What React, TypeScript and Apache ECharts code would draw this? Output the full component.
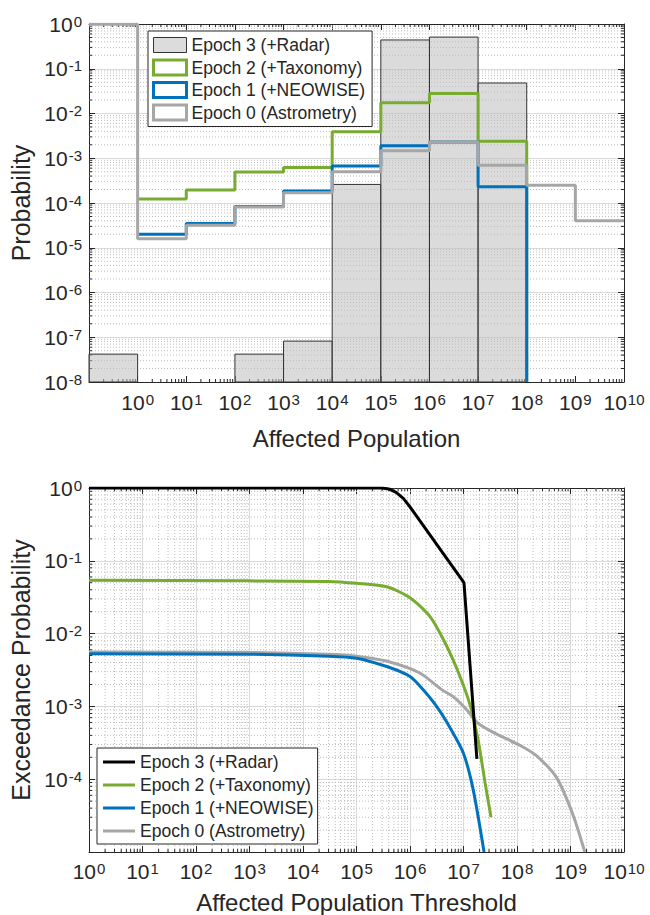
import React, { useEffect, useRef } from "react";
import * as echarts from "echarts";

// ---------- Top chart: histogram of affected population ----------
const binEdges = [0.1, 1, 10, 1e2, 1e3, 1e4, 1e5, 1e6, 1e7, 1e8, 1e9, 1e10];
const epoch3Hist = [4.2e-8, 0, 0, 4.2e-8, 8.2e-8, 2.6e-4, 0.44, 0.51, 0.048, 0, 0];
const epoch2Hist = [null, 1.23e-4, 1.95e-4, 4.9e-4, 6.2e-4, 3.9e-3, 0.0173, 0.028, 2.4e-3, 0, 0];
const epoch1Hist = [null, 2.0e-5, 3.5e-5, 8.3e-5, 1.86e-4, 6.7e-4, 1.9e-3, 2.3e-3, 2.3e-4, 0, 0];
const epoch0Hist = [0.99, 1.58e-5, 3.2e-5, 8.1e-5, 1.7e-4, 5.0e-4, 1.47e-3, 2.3e-3, 7.0e-4, 2.5e-4, 4.0e-5];

// ---------- Bottom chart: exceedance curves [threshold, probability] ----------
const epoch3Exc = [[1, 1], [3e5, 1], [4e5, 0.97], [5.5e5, 0.87], [7.5e5, 0.72], [1e6, 0.55], [1.02e7, 0.05], [1.78e7, 1.9e-4]];
const epoch2Exc = [[1, 0.054], [1e3, 0.053], [3e4, 0.052], [1e5, 0.049], [3.67e5, 0.044], [1e6, 0.0311], [2.37e6, 0.0171], [4.92e6, 6.6e-3], [8.6e6, 2.58e-3], [1.32e7, 1.06e-3], [1.87e7, 3.5e-4], [2.52e7, 9.1e-5], [3.27e7, 3.0e-5]];
const epoch1Exc = [[1, 5.3e-3], [1e3, 5.2e-3], [3e4, 4.9e-3], [1e5, 4.6e-3], [3.67e5, 3.53e-3], [1e6, 2.58e-3], [1.75e6, 1.71e-3], [3e6, 1.05e-3], [4.92e6, 6.0e-4], [9.8e6, 2.34e-4], [1.51e7, 7.3e-5], [2.42e7, 1e-5]];
const epoch0Exc = [[1, 5.6e-3], [1e3, 5.5e-3], [3e4, 5.2e-3], [1e5, 4.9e-3], [3.6e5, 4.2e-3], [1.5e6, 2.9e-3], [3.9e6, 1.7e-3], [6.5e6, 1.35e-3], [1.15e7, 9e-4], [1.8e7, 6e-4], [3.6e7, 4.4e-4], [1.15e8, 2.9e-4], [2.3e8, 2.1e-4], [5.5e8, 1.05e-4], [1.12e9, 3.2e-5], [1.85e9, 1e-5]];

const seriesNames = ["Epoch 3 (+Radar)", "Epoch 2 (+Taxonomy)", "Epoch 1 (+NEOWISE)", "Epoch 0 (Astrometry)"];

const TOP_X = [0.1, 1e10];
const TOP_Y = [1e-8, 1];
const BOT_X = [1, 1e10];
const BOT_Y = [1e-5, 1];

const C_GREEN = "#77AC30";
const C_BLUE = "#0072BD";
const C_GRAY = "#a6a6a6";
const C_BLACK = "#000000";
const C_AXIS = "#262626";
const FONT = '"Liberation Sans", Arial, Helvetica, sans-serif';

function stairs(vals: (number | null)[], floor: number) {
  const pts: number[][] = [];
  let last = -1;
  for (let i = 0; i < vals.length; i++) {
    const v = vals[i];
    if (v == null) continue;
    if (v > 0) {
      pts.push([binEdges[i], v]);
      last = i;
    } else if (last === i - 1 && last >= 0) {
      pts.push([binEdges[i], floor]);
      last = -2;
      break;
    }
  }
  if (last === vals.length - 1) pts.push([binEdges[vals.length], vals[last] as number]);
  return pts;
}

function minorValues(lo: number, hi: number) {
  const out: number[] = [];
  const a = Math.floor(Math.log10(lo));
  const b = Math.ceil(Math.log10(hi));
  for (let k = a; k < b; k++) {
    for (let m = 2; m <= 9; m++) {
      const v = m * Math.pow(10, k);
      if (v > lo * 1.0001 && v < hi * 0.9999) out.push(v);
    }
  }
  return out;
}

const supRich = {
  b: { fontSize: 21, lineHeight: 21, verticalAlign: "bottom", color: C_AXIS, fontFamily: FONT },
  s: { fontSize: 15, lineHeight: 15, verticalAlign: "top", padding: [0, 0, 10, 1], color: C_AXIS, fontFamily: FONT },
};
const supFormatter = (v: number) => "{b|10}{s|" + Math.round(Math.log10(v)) + "}";

function mainAxis(grid: number, range: number[], extra: any) {
  return {
    type: "log",
    logBase: 10,
    gridIndex: grid,
    min: range[0],
    max: range[1],
    interval: 1,
    axisLine: { show: true, onZero: false, lineStyle: { color: C_AXIS, width: 1 } },
    axisTick: { show: true, inside: true, length: 6, lineStyle: { color: C_AXIS } },
    minorTick: { show: false },
    ...extra,
  };
}

function mirrorAxis(grid: number, range: number[], position: string) {
  return {
    type: "log",
    logBase: 10,
    gridIndex: grid,
    min: range[0],
    max: range[1],
    interval: 1,
    position,
    axisLine: { show: true, onZero: false, lineStyle: { color: C_AXIS, width: 1 } },
    axisTick: { show: true, inside: true, length: 6, lineStyle: { color: C_AXIS } },
    axisLabel: { show: false },
    splitLine: { show: false },
  };
}

function hMinorSeries(xi: number, yi: number, xr: number[], yr: number[], grid: boolean) {
  return {
    type: "custom",
    xAxisIndex: xi,
    yAxisIndex: yi,
    silent: true,
    z: 1,
    encode: { x: 0, y: 1 },
    data: minorValues(yr[0], yr[1]).map((v) => [xr[0], v]),
    renderItem: (params: any, api: any) => {
      const v = api.value(1);
      const a = api.coord([xr[0], v]);
      const b = api.coord([xr[1], v]);
      const children: any[] = [];
      if (grid)
        children.push({
          type: "line",
          shape: { x1: a[0], y1: a[1], x2: b[0], y2: b[1] },
          style: { stroke: "#bdbdbd", lineWidth: 1, lineDash: [1, 2] },
        });
      children.push({ type: "line", shape: { x1: a[0], y1: a[1], x2: a[0] + 3, y2: a[1] }, style: { stroke: C_AXIS, lineWidth: 1 } });
      children.push({ type: "line", shape: { x1: b[0] - 3, y1: b[1], x2: b[0], y2: b[1] }, style: { stroke: C_AXIS, lineWidth: 1 } });
      return { type: "group", children };
    },
  };
}

function vMinorSeries(xi: number, yi: number, xr: number[], yr: number[], grid: boolean) {
  return {
    type: "custom",
    xAxisIndex: xi,
    yAxisIndex: yi,
    silent: true,
    z: 1,
    encode: { x: 0, y: 1 },
    data: minorValues(xr[0], xr[1]).map((v) => [v, yr[0]]),
    renderItem: (params: any, api: any) => {
      const v = api.value(0);
      const a = api.coord([v, yr[0]]);
      const b = api.coord([v, yr[1]]);
      const children: any[] = [];
      if (grid)
        children.push({
          type: "line",
          shape: { x1: a[0], y1: a[1], x2: b[0], y2: b[1] },
          style: { stroke: "#bdbdbd", lineWidth: 1, lineDash: [1, 2] },
        });
      children.push({ type: "line", shape: { x1: a[0], y1: a[1], x2: a[0], y2: a[1] - 3 }, style: { stroke: C_AXIS, lineWidth: 1 } });
      children.push({ type: "line", shape: { x1: b[0], y1: b[1], x2: b[0], y2: b[1] + 3 }, style: { stroke: C_AXIS, lineWidth: 1 } });
      return { type: "group", children };
    },
  };
}

function excSeries(name: string, color: string, data: number[][], smooth: number | boolean) {
  return {
    name,
    type: "line",
    xAxisIndex: 2,
    yAxisIndex: 2,
    symbol: "none",
    smooth,
    z: 3,
    lineStyle: { color, width: 3 },
    itemStyle: { color },
    data,
  };
}

function stairSeries(name: string, color: string, data: number[][]) {
  return {
    name,
    type: "line",
    xAxisIndex: 0,
    yAxisIndex: 0,
    step: "end",
    symbol: "none",
    z: 3,
    lineStyle: { color, width: 3 },
    itemStyle: { color },
    data,
  };
}

export default function App() {
  const ref = useRef<HTMLDivElement>(null);
  useEffect(() => {
    if (!ref.current) return;
    const chart = echarts.init(ref.current, undefined, { renderer: "svg" });

    const histData = epoch3Hist
      .map((v, i) => [binEdges[i], binEdges[i + 1], v])
      .filter((d) => d[2] > 0);

    const majorSplit = { show: true, lineStyle: { color: "#dadada", width: 1 } };

    const option: any = {
      animation: false,
      backgroundColor: "#ffffff",
      textStyle: { fontFamily: FONT },
      grid: [
        { left: 89, top: 24, width: 535, height: 358 },
        { left: 89, top: 488, width: 535, height: 365 },
      ],
      xAxis: [
        mainAxis(0, TOP_X, {
          splitLine: { show: false },
          axisLabel: { formatter: supFormatter, rich: supRich, margin: 10, showMinLabel: false },
          name: "Affected Population",
          nameLocation: "middle",
          nameGap: 44,
          nameTextStyle: { fontSize: 24, color: C_AXIS, fontFamily: FONT },
        }),
        mirrorAxis(0, TOP_X, "top"),
        mainAxis(1, BOT_X, {
          splitLine: majorSplit,
          axisLabel: { formatter: supFormatter, rich: supRich, margin: 9 },
          name: "Affected Population Threshold",
          nameLocation: "middle",
          nameGap: 38,
          nameTextStyle: { fontSize: 24, color: C_AXIS, fontFamily: FONT },
        }),
        mirrorAxis(1, BOT_X, "top"),
      ],
      yAxis: [
        mainAxis(0, TOP_Y, {
          splitLine: majorSplit,
          axisLabel: { formatter: supFormatter, rich: supRich, margin: 7 },
          name: "Probability",
          nameLocation: "middle",
          nameGap: 52,
          nameTextStyle: { fontSize: 25, color: C_AXIS, fontFamily: FONT },
        }),
        mirrorAxis(0, TOP_Y, "right"),
        mainAxis(1, BOT_Y, {
          splitLine: majorSplit,
          axisLabel: { formatter: supFormatter, rich: supRich, margin: 7, showMinLabel: false },
          name: "Exceedance Probability",
          nameLocation: "middle",
          nameGap: 50,
          nameTextStyle: { fontSize: 25, color: C_AXIS, fontFamily: FONT },
        }),
        mirrorAxis(1, BOT_Y, "right"),
      ],
      legend: [
        {
          orient: "vertical",
          left: 148,
          top: 31,
          padding: [5, 7, 5, 4],
          itemGap: 4.5,
          itemWidth: 33,
          itemHeight: 15,
          selectedMode: false,
          backgroundColor: "#ffffff",
          borderColor: C_AXIS,
          borderWidth: 1,
          borderRadius: 0,
          textStyle: { fontSize: 17.5, lineHeight: 18, color: C_AXIS, fontFamily: FONT },
          data: [
            { name: seriesNames[0], icon: "rect", itemStyle: { color: "#dcdcdc", borderColor: "#333333", borderWidth: 1 } },
            { name: seriesNames[1], icon: "rect", itemStyle: { color: "#ffffff", borderColor: C_GREEN, borderWidth: 3 } },
            { name: seriesNames[2], icon: "rect", itemStyle: { color: "#ffffff", borderColor: C_BLUE, borderWidth: 3 } },
            { name: seriesNames[3], icon: "rect", itemStyle: { color: "#ffffff", borderColor: C_GRAY, borderWidth: 3 } },
          ],
        },
        {
          orient: "vertical",
          left: 97,
          top: 748,
          padding: [4, 4, 3, 6],
          itemGap: 3,
          itemWidth: 32,
          itemHeight: 3,
          selectedMode: false,
          backgroundColor: "#ffffff",
          borderColor: C_AXIS,
          borderWidth: 1,
          borderRadius: 0,
          textStyle: { fontSize: 17.5, lineHeight: 20, color: C_AXIS, fontFamily: FONT },
          data: [
            { name: seriesNames[0], icon: "rect", itemStyle: { color: C_BLACK, borderWidth: 0 } },
            { name: seriesNames[1], icon: "rect", itemStyle: { color: C_GREEN, borderWidth: 0 } },
            { name: seriesNames[2], icon: "rect", itemStyle: { color: C_BLUE, borderWidth: 0 } },
            { name: seriesNames[3], icon: "rect", itemStyle: { color: C_GRAY, borderWidth: 0 } },
          ],
        },
      ],
      series: [
        hMinorSeries(0, 0, TOP_X, TOP_Y, true),
        vMinorSeries(0, 0, TOP_X, TOP_Y, false),
        hMinorSeries(2, 2, BOT_X, BOT_Y, true),
        vMinorSeries(2, 2, BOT_X, BOT_Y, true),
        {
          name: seriesNames[0],
          type: "custom",
          xAxisIndex: 0,
          yAxisIndex: 0,
          z: 2,
          encode: { x: [0, 1], y: 2 },
          data: histData,
          itemStyle: { color: "#dcdcdc" },
          renderItem: (params: any, api: any) => {
            const p0 = api.coord([api.value(0), api.value(2)]);
            const p1 = api.coord([api.value(1), TOP_Y[0]]);
            return {
              type: "rect",
              shape: { x: p0[0], y: p0[1], width: p1[0] - p0[0], height: p1[1] - p0[1] },
              style: { fill: "rgba(190,190,190,0.55)", stroke: "#333333", lineWidth: 1 },
            };
          },
        },
        stairSeries(seriesNames[1], C_GREEN, stairs(epoch2Hist, TOP_Y[0])),
        stairSeries(seriesNames[2], C_BLUE, stairs(epoch1Hist, TOP_Y[0])),
        stairSeries(seriesNames[3], C_GRAY, stairs(epoch0Hist, TOP_Y[0])),
        excSeries(seriesNames[3], C_GRAY, epoch0Exc, 0.25),
        excSeries(seriesNames[2], C_BLUE, epoch1Exc, 0.25),
        excSeries(seriesNames[1], C_GREEN, epoch2Exc, 0.25),
        excSeries(seriesNames[0], C_BLACK, epoch3Exc, false),
      ],
    };

    chart.setOption(option);
    return () => chart.dispose();
  }, []);

  return (
    <div
      ref={ref}
      style={{ position: "fixed", left: 0, top: 0, width: 650, height: 915, background: "#fff" }}
    />
  );
}
